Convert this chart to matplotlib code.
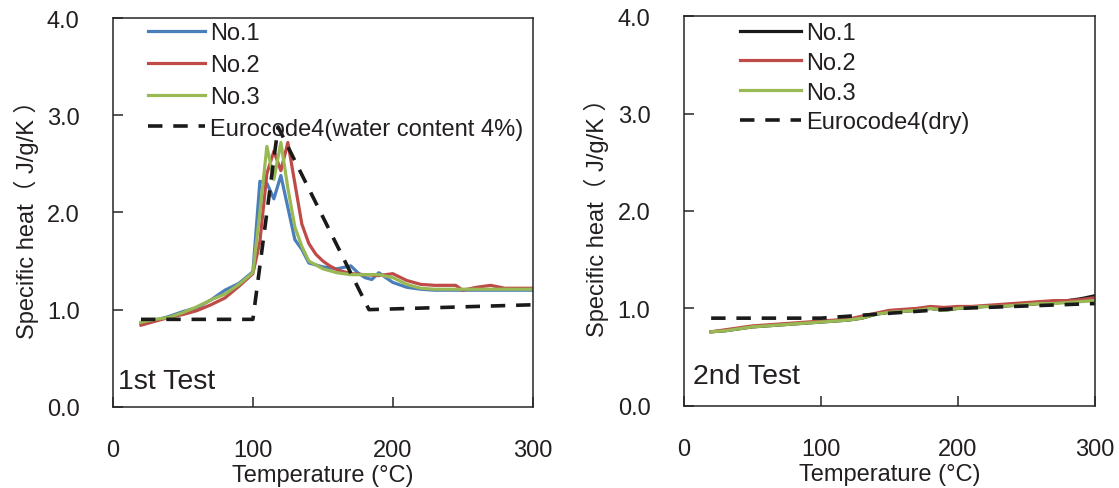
import matplotlib
matplotlib.use("Agg")
import matplotlib.pyplot as plt
from matplotlib.ticker import FormatStrFormatter

plt.rcParams['font.family'] = ['Liberation Sans', 'Noto Sans CJK JP', 'DejaVu Sans']

# ---- 1st Test (left) ----
t1_no1 = [20, 30, 40, 50, 60, 70, 80, 90, 100, 105, 110, 115, 120, 125, 130, 135, 140, 150,
          160, 170, 175, 180, 185, 190, 200, 210, 220, 230, 240, 250, 260, 270, 280, 290, 300]
c1_no1 = [0.86, 0.89, 0.93, 0.98, 1.02, 1.10, 1.20, 1.27, 1.39, 2.32, 2.30, 2.14, 2.38, 2.05, 1.72, 1.62, 1.48, 1.44,
          1.42, 1.45, 1.38, 1.33, 1.31, 1.38, 1.28, 1.23, 1.21, 1.20, 1.20, 1.20, 1.20, 1.20, 1.20, 1.20, 1.20]

t1_no2 = [20, 30, 40, 50, 60, 70, 80, 90, 100, 105, 110, 115, 120, 125, 130, 135, 140, 145, 150, 155,
          160, 170, 180, 190, 200, 210, 220, 230, 240, 245, 250, 260, 270, 280, 290, 300]
c1_no2 = [0.84, 0.88, 0.92, 0.95, 0.99, 1.05, 1.12, 1.24, 1.37, 1.70, 2.40, 2.63, 2.43, 2.72, 2.30, 1.88, 1.68, 1.57, 1.50, 1.45,
          1.41, 1.37, 1.36, 1.35, 1.37, 1.30, 1.26, 1.25, 1.25, 1.25, 1.20, 1.23, 1.25, 1.22, 1.22, 1.22]

t1_no3 = [20, 30, 40, 50, 60, 70, 80, 90, 100, 105, 110, 115, 120, 125, 130, 135, 140, 150,
          160, 170, 180, 190, 200, 210, 220, 230, 240, 250, 260, 270, 280, 290, 300]
c1_no3 = [0.87, 0.90, 0.92, 0.97, 1.03, 1.10, 1.16, 1.26, 1.38, 2.00, 2.68, 2.34, 2.72, 2.25, 1.85, 1.65, 1.50, 1.42,
          1.38, 1.36, 1.36, 1.36, 1.33, 1.26, 1.22, 1.21, 1.21, 1.21, 1.21, 1.21, 1.21, 1.21, 1.21]

t1_ec = [20, 100, 118, 183, 300]
c1_ec = [0.90, 0.90, 2.88, 1.00, 1.05]

# ---- 2nd Test (right) ----
t2 = [20, 30, 40, 50, 60, 70, 80, 90, 100, 110, 120, 130, 140, 150, 160, 170, 180, 190,
      200, 210, 220, 230, 240, 250, 260, 270, 280, 290, 300]
c2_no1 = [0.76, 0.77, 0.79, 0.81, 0.82, 0.83, 0.84, 0.85, 0.86, 0.87, 0.88, 0.90, 0.94, 0.96, 0.97, 0.98, 1.00, 0.98,
          1.00, 1.01, 1.02, 1.02, 1.03, 1.04, 1.05, 1.05, 1.08, 1.10, 1.13]
c2_no2 = [0.76, 0.78, 0.80, 0.82, 0.83, 0.84, 0.85, 0.86, 0.87, 0.88, 0.89, 0.92, 0.95, 0.98, 0.99, 1.00, 1.02, 1.01,
          1.02, 1.02, 1.03, 1.04, 1.05, 1.06, 1.07, 1.08, 1.08, 1.09, 1.11]
c2_no3 = [0.76, 0.77, 0.79, 0.81, 0.82, 0.83, 0.84, 0.85, 0.86, 0.87, 0.88, 0.90, 0.94, 0.96, 0.97, 0.98, 1.00, 0.98,
          1.00, 1.01, 1.02, 1.02, 1.03, 1.04, 1.05, 1.05, 1.06, 1.07, 1.08]

t2_ec = [20, 100, 200, 300]
c2_ec = [0.90, 0.90, 1.00, 1.05]

blue = '#4a7ebb'
red = '#be4b48'
green = '#98b954'
dark = '#1a1a1a'
txt = '#231f20'
fs = 17

fig = plt.figure(figsize=(11.19, 4.89), dpi=100)
ax1 = fig.add_axes([0.101, 0.166, 0.375, 0.795])
ax2 = fig.add_axes([0.611, 0.168, 0.3675, 0.797])


def style(ax):
    ax.set_xlim(0, 300)
    ax.set_ylim(0, 4)
    ax.set_xticks([0, 100, 200, 300])
    ax.set_yticks([0, 1, 2, 3, 4])
    ax.yaxis.set_major_formatter(FormatStrFormatter('%.1f'))
    ax.tick_params(direction='in', length=7, width=1.1, color='#262626',
                   labelsize=fs, labelcolor=txt, pad=24)
    ax.tick_params(axis='x', pad=23)
    for s in ax.spines.values():
        s.set_linewidth(1.1)
        s.set_color('#262626')
    ax.set_xlabel('Temperature (°C)', fontsize=fs, color=txt, labelpad=2)
    ax.set_ylabel('Specific heat（ J/g/K ）', fontsize=fs, color=txt, labelpad=6)


ax1.plot(t1_no1, c1_no1, color=blue, lw=2.3, label='No.1')
ax1.plot(t1_no2, c1_no2, color=red, lw=2.3, label='No.2')
ax1.plot(t1_no3, c1_no3, color=green, lw=2.3, label='No.3')
ax1.plot(t1_ec, c1_ec, color=dark, lw=2.6, dashes=(4, 3), label='Eurocode4(water content 4%)')
style(ax1)
ax1.legend(loc='upper left', bbox_to_anchor=(0.083, 0.99), frameon=False, fontsize=fs,
           borderaxespad=0, borderpad=0, handlelength=2.4, handletextpad=0.25,
           labelspacing=0.42, labelcolor=txt)
ax1.text(0.012, 0.067, '1st Test', transform=ax1.transAxes, fontsize=20.5, color=txt,
         ha='left', va='center')

ax2.plot(t2, c2_no1, color=dark, lw=2.3, label='No.1')
ax2.plot(t2, c2_no2, color=red, lw=2.3, label='No.2')
ax2.plot(t2, c2_no3, color=green, lw=2.3, label='No.3')
ax2.plot(t2_ec, c2_ec, color=dark, lw=2.6, dashes=(4, 3), label='Eurocode4(dry)')
style(ax2)
ax2.legend(loc='upper left', bbox_to_anchor=(0.136, 0.985), frameon=False, fontsize=fs,
           borderaxespad=0, borderpad=0, handlelength=2.6, handletextpad=0.2,
           labelspacing=0.33, labelcolor=txt)
ax2.text(0.022, 0.077, '2nd Test', transform=ax2.transAxes, fontsize=20.5, color=txt,
         ha='left', va='center')

fig.savefig('out.png', dpi=100)
